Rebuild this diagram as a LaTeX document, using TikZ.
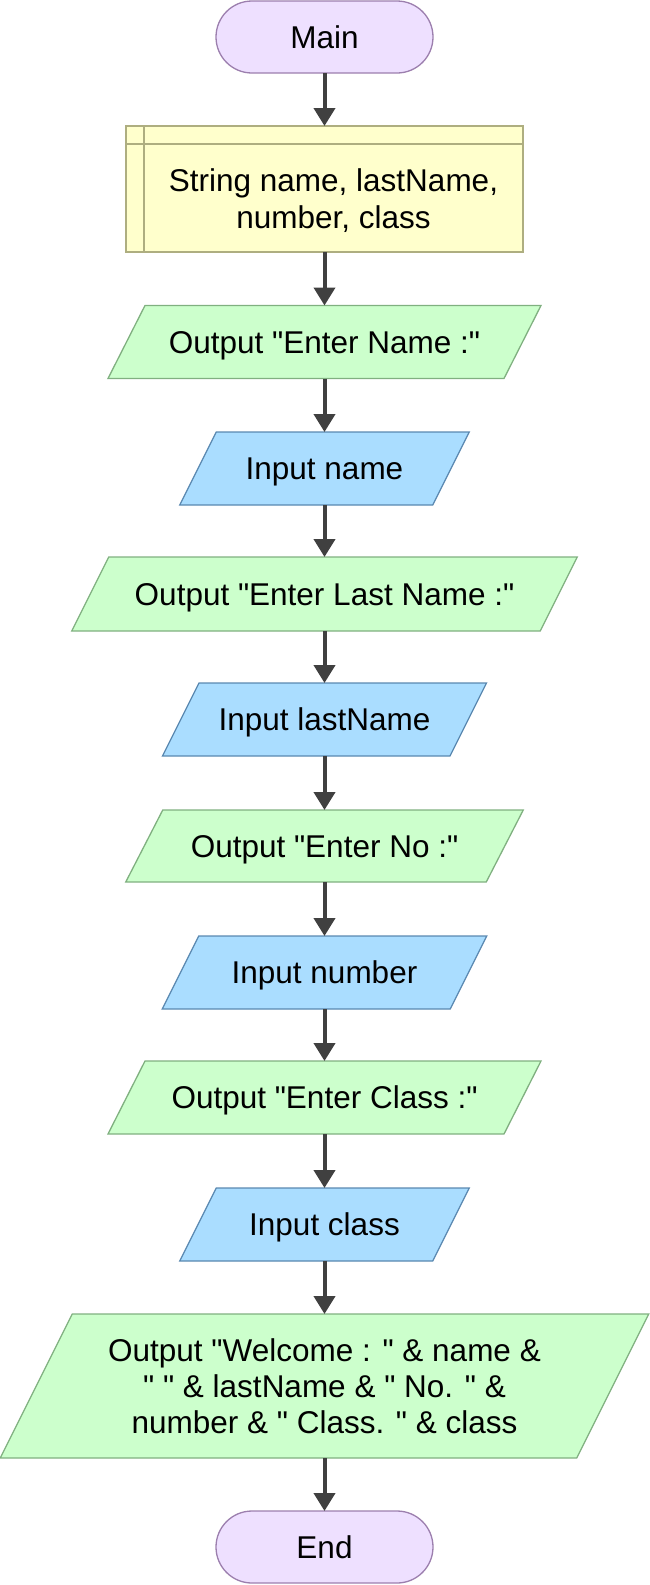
\documentclass[tikz,border=0pt]{standalone}
\usepackage{fontspec}
\setmainfont{Liberation Sans}[Ligatures=TeXOff]
\usetikzlibrary{arrows.meta,backgrounds}
\definecolor{termfill}{HTML}{EEE0FF}
\definecolor{termdraw}{HTML}{9C7FAE}
\definecolor{declfill}{HTML}{FFFFCC}
\definecolor{decldraw}{HTML}{AEAE80}
\definecolor{outfill}{HTML}{CCFFCC}
\definecolor{outdraw}{HTML}{80B080}
\definecolor{infill}{HTML}{AADDFF}
\definecolor{indraw}{HTML}{5A88B0}
\definecolor{arrowc}{HTML}{404040}
\begin{document}
\begin{tikzpicture}[x=1pt,y=1pt]
\tikzset{
  base/.style={font=\fontsize{31.5}{36}\selectfont, align=center, inner sep=0pt, outer sep=0pt},
  term/.style={base, text depth=0pt, rectangle, rounded corners=36pt, draw=termdraw, fill=termfill, line width=1.3pt, minimum width=217pt, minimum height=72pt},
  declbox/.style={base, rectangle, draw=decldraw, fill=declfill, line width=1.3pt, minimum width=397pt, minimum height=126pt},
  declline/.style={draw=decldraw, line width=1.3pt},
  holder/.style={base, text depth=0pt, rectangle, minimum width=#1},
  outshape/.style={draw=outdraw, fill=outfill, line width=1.3pt, line join=miter},
  inshape/.style={draw=indraw, fill=infill, line width=1.3pt, line join=miter},
  flow/.style={draw=arrowc, line width=4pt, -{Triangle[width=21pt,length=18pt]}},
}
\useasboundingbox (0,0) rectangle (649,-1585);

\node[term] (main) at (324.5,-37) {Main};
\node[declbox] (decl) at (324.5,-189) {};
\draw[declline] ([yshift=-18]decl.north west) -- ([yshift=-18]decl.north east);
\draw[declline] ([xshift=18]decl.north west) -- ([xshift=18]decl.south west);
\node[base, font=\fontsize{31.5}{36.7}\selectfont] (decltxt) at (333.5,-200.5) {String name, lastName,\\number, class};

\node[holder=396pt, minimum height=73pt] (o1) at (324.5,-342) {Output "Enter Name :"};
\node[holder=253pt, minimum height=73pt] (i1) at (324.5,-468.5) {Input name};
\node[holder=468.5pt, minimum height=74pt] (o2) at (324.5,-594) {Output "Enter Last Name :"};
\node[holder=287.5pt, minimum height=73pt] (i2) at (324.5,-719.5) {Input lastName};
\node[holder=360.5pt, minimum height=72pt] (o3) at (324.5,-846) {Output "Enter No :"};
\node[holder=288pt, minimum height=73pt] (i3) at (324.5,-972.5) {Input number};
\node[holder=396pt, minimum height=73pt] (o4) at (324.5,-1097.5) {Output "Enter Class :"};
\node[holder=253pt, minimum height=73pt] (i4) at (324.5,-1224.5) {Input class};
\node[holder=576.5pt, minimum height=144pt] (o5) at (324.5,-1386) {Output "Welcome : " \& name \&\\" " \& lastName \& " No. " \&\\number \& " Class. " \& class};
\node[term] (end) at (324.5,-1547) {End};

\begin{scope}[on background layer]
\foreach \n/\s/\st in {o1/18.5/outshape, i1/18.25/inshape, o2/18.5/outshape, i2/18.25/inshape, o3/18.5/outshape, i3/18.25/inshape, o4/18.5/outshape, i4/18.25/inshape, o5/36/outshape}
  \draw[\st] ([xshift=\s]\n.north west) -- ([xshift=\s]\n.north east) -- ([xshift=-\s]\n.south east) -- ([xshift=-\s]\n.south west) -- cycle;
\end{scope}

\draw[flow] (main.south) -- (decl.north);
\draw[flow] (decl.south) -- (o1.north);
\draw[flow] (o1.south) -- (i1.north);
\draw[flow] (i1.south) -- (o2.north);
\draw[flow] (o2.south) -- (i2.north);
\draw[flow] (i2.south) -- (o3.north);
\draw[flow] (o3.south) -- (i3.north);
\draw[flow] (i3.south) -- (o4.north);
\draw[flow] (o4.south) -- (i4.north);
\draw[flow] (i4.south) -- (o5.north);
\draw[flow] (o5.south) -- (end.north);
\end{tikzpicture}
\end{document}
